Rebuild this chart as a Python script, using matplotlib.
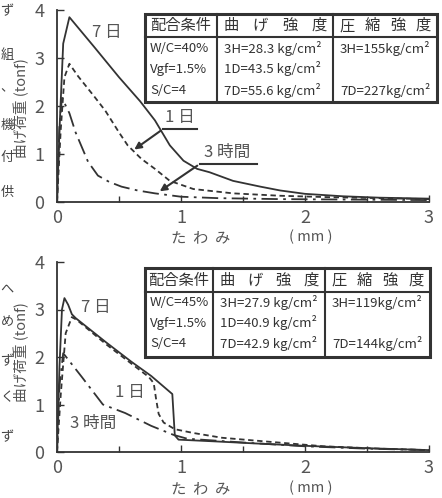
import numpy as np
import matplotlib.pyplot as plt
from matplotlib.lines import Line2D
from matplotlib.patches import Rectangle

plt.rcParams['font.family'] = ['Noto Sans CJK JP', 'DejaVu Sans']

W, H = 442, 498
INK = '#333333'

# --- data: upper chart (W/C=40%) ---
top_7d_x = [0, 0.02, 0.05, 0.1, 0.3, 0.5, 0.67, 0.79, 0.91, 1.02, 1.13, 1.23, 1.42, 1.64, 1.8, 2.0, 2.3, 2.6, 3.0]
top_7d_y = [0, 1.5, 3.3, 3.85, 3.23, 2.6, 2.1, 1.7, 1.18, 0.86, 0.69, 0.62, 0.44, 0.32, 0.24, 0.17, 0.12, 0.09, 0.07]
top_1d_x = [0, 0.03, 0.06, 0.1, 0.17, 0.3, 0.39, 0.5, 0.57, 0.68, 0.79, 0.91, 1.1, 1.42, 1.8, 2.2, 2.6, 3.0]
top_1d_y = [0, 1.5, 2.6, 2.88, 2.62, 2.2, 1.9, 1.45, 1.18, 0.9, 0.69, 0.44, 0.27, 0.18, 0.13, 0.1, 0.08, 0.06]
top_3h_x = [0, 0.02, 0.04, 0.1, 0.15, 0.25, 0.33, 0.42, 0.52, 0.65, 0.79, 1.0, 1.3, 1.8, 2.4, 3.0]
top_3h_y = [0, 1.6, 2.17, 1.85, 1.45, 0.84, 0.55, 0.42, 0.32, 0.24, 0.18, 0.11, 0.08, 0.06, 0.05, 0.04]

# --- data: lower chart (W/C=45%) ---
bot_7d_x = [0, 0.02, 0.04, 0.06, 0.09, 0.12, 0.15, 0.4, 0.6, 0.76, 0.93, 0.95, 0.98, 1.3, 1.6, 2.0, 2.5, 3.0]
bot_7d_y = [0, 1.8, 3.0, 3.24, 3.1, 2.9, 2.82, 2.3, 1.9, 1.6, 1.22, 0.35, 0.26, 0.22, 0.18, 0.13, 0.08, 0.04]
bot_1d_x = [0, 0.03, 0.07, 0.12, 0.16, 0.4, 0.6, 0.74, 0.78, 0.8, 0.82, 0.86, 0.95, 1.1, 1.33, 1.6, 2.15, 2.6, 3.0]
bot_1d_y = [0, 1.2, 2.5, 2.84, 2.78, 2.26, 1.86, 1.58, 1.45, 1.1, 0.8, 0.62, 0.48, 0.4, 0.3, 0.24, 0.12, 0.07, 0.04]
bot_3h_x = [0, 0.02, 0.05, 0.2, 0.37, 0.55, 0.76, 0.94, 1.05, 1.5, 2.0, 2.5, 3.0]
bot_3h_y = [0, 1.4, 2.08, 1.58, 1.0, 0.82, 0.55, 0.36, 0.28, 0.2, 0.12, 0.07, 0.04]

# --- table texts ---
tbl_head = ['配合条件', '曲げ強度', '圧縮強度']
top_mix = ['W/C=40%', 'Vgf=1.5%', 'S/C=4']
top_bend = ['3H=28.3 kg/cm²', '1D=43.5 kg/cm²', '7D=55.6 kg/cm²']
top_comp = ['3H=155kg/cm²', '', '7D=227kg/cm²']
bot_mix = ['W/C=45%', 'Vgf=1.5%', 'S/C=4']
bot_bend = ['3H=27.9 kg/cm²', '1D=40.9 kg/cm²', '7D=42.9 kg/cm²']
bot_comp = ['3H=119kg/cm²', '', '7D=144kg/cm²']

# characters of the neighbouring text column at the left edge
edge_chars = ['ず', '組', '、', '機', '付', '供', 'へ', 'め', 'ず', 'く', 'ず']
edge_py = [12, 55, 88, 125, 158, 192, 290, 322, 362, 398, 438]


def fx(px):
    return px / W


def fy(py):
    return 1 - py / H


def setup_axes(ax):
    ax.set_xlim(0, 3)
    ax.set_ylim(0, 4)
    for s in ['top', 'right']:
        ax.spines[s].set_visible(False)
    for s in ['left', 'bottom']:
        ax.spines[s].set_color(INK)
        ax.spines[s].set_linewidth(1.3)
    ax.set_xticks([0, 1, 2, 3])
    ax.set_xticks([0.5, 1.5, 2.5], minor=True)
    ax.set_yticks([0, 1, 2, 3, 4])
    ax.tick_params(direction='in', length=5, width=1.0, colors=INK,
                   labelsize=13, labelcolor='#555555', pad=5)
    ax.tick_params(which='minor', direction='in', length=4, width=1.0, colors=INK)
    ax.tick_params(axis='y', pad=9)
    ax.patch.set_alpha(0)


def plot_curves(ax, x7, y7, x1, y1, x3, y3):
    ax.plot(x7, y7, color=INK, lw=1.3, solid_joinstyle='round')
    ax.plot(x1, y1, color=INK, lw=1.3, linestyle=(0, (3, 2)))
    ax.plot(x3, y3, color=INK, lw=1.3, linestyle=(0, (9, 3, 1.5, 3)))


def draw_table(fig, x0, x1, y0, y1, yh, c1, c2, ty, mix, bend, comp):
    tr = fig.transFigure
    fig.add_artist(Rectangle((fx(x0), fy(y1)), fx(x1 - x0), (y1 - y0) / H,
                             fill=False, lw=2.2, edgecolor=INK, transform=tr))
    fig.add_artist(Line2D([fx(x0), fx(x1)], [fy(yh), fy(yh)], lw=1.5, color=INK, transform=tr))
    for cx in [c1, c2]:
        fig.add_artist(Line2D([fx(cx), fx(cx)], [fy(y0), fy(y1)], lw=1.5, color=INK, transform=tr))
    hy = fy((y0 + yh) / 2)
    fig.text(fx((x0 + c1) / 2), hy, tbl_head[0], ha='center', va='center', fontsize=11, color=INK)
    # spaced-out header characters
    for lo, hi, word in [(c1, c2, tbl_head[1]), (c2, x1, tbl_head[2])]:
        pos = np.linspace(lo + 14, hi - 14, len(word))
        for p, ch in zip(pos, word):
            fig.text(fx(p), hy, ch, ha='center', va='center', fontsize=11, color=INK)
    for i in range(3):
        fig.text(fx(x0 + 5), fy(ty[i]), mix[i], ha='left', va='center', fontsize=9.5, color=INK)
        fig.text(fx(c1 + 7), fy(ty[i]), bend[i], ha='left', va='center', fontsize=9.5, color=INK)
        fig.text(fx(c2 + 7), fy(ty[i]), comp[i], ha='left', va='center', fontsize=9.5, color=INK)


fig = plt.figure(figsize=(W / 100, H / 100), dpi=100)

# --- upper chart ---
ax1 = fig.add_axes([fx(57), fy(202), fx(429) - fx(57), (202 - 10) / H])
setup_axes(ax1)
plot_curves(ax1, top_7d_x, top_7d_y, top_1d_x, top_1d_y, top_3h_x, top_3h_y)
ax1.text(0.40, 3.54, '7 日', fontsize=12, color='#555555', ha='center', va='center')
ax1.text(0.99, 1.77, '1 日', fontsize=12, color='#555555', ha='center', va='center')
ax1.text(1.37, 1.04, '3 時間', fontsize=12, color='#555555', ha='center', va='center')
ax1.plot([1.13, 0.855], [1.52, 1.52], color=INK, lw=1.5)
ax1.annotate('', xy=(0.605, 1.06), xytext=(0.855, 1.52),
             arrowprops=dict(arrowstyle='-|>', color=INK, lw=1.5, mutation_scale=10))
ax1.plot([1.61, 1.15], [0.79, 0.79], color=INK, lw=1.5)
ax1.annotate('', xy=(0.81, 0.19), xytext=(1.15, 0.79),
             arrowprops=dict(arrowstyle='-|>', color=INK, lw=1.5, mutation_scale=10))

# --- lower chart ---
ax2 = fig.add_axes([fx(57), fy(452), fx(429) - fx(57), (452 - 262) / H])
setup_axes(ax2)
plot_curves(ax2, bot_7d_x, bot_7d_y, bot_1d_x, bot_1d_y, bot_3h_x, bot_3h_y)
ax2.text(0.31, 3.05, '7 日', fontsize=12, color='#555555', ha='center', va='center')
ax2.text(0.59, 1.26, '1 日', fontsize=12, color='#555555', ha='center', va='center')
ax2.text(0.29, 0.61, '3 時間', fontsize=12, color='#555555', ha='center', va='center')

# --- axis titles ---
for yc, xl in [(108, 238), (352, 489)]:
    fig.text(fx(21), fy(yc), '曲げ荷重 (tonf)', rotation=90, ha='center', va='center',
             fontsize=10.5, color='#555555')
    fig.text(fx(201), fy(xl), 'た  わ  み', ha='center', va='center', fontsize=11, color='#555555')
    fig.text(fx(311), fy(xl - 1), '( mm )', ha='center', va='center', fontsize=10.5, color='#555555')

# --- tables ---
draw_table(fig, 145, 437, 14, 102, 37, 217, 333, [48, 69, 90], top_mix, top_bend, top_comp)
draw_table(fig, 145, 430, 268, 357, 292, 213, 325, [303, 323, 343], bot_mix, bot_bend, bot_comp)

# --- neighbouring column at the left edge ---
for ch, py in zip(edge_chars, edge_py):
    fig.text(fx(7), fy(py), ch, ha='center', va='center', fontsize=9.5, color='#444444')

fig.savefig('out.png', dpi=100, facecolor='white')
